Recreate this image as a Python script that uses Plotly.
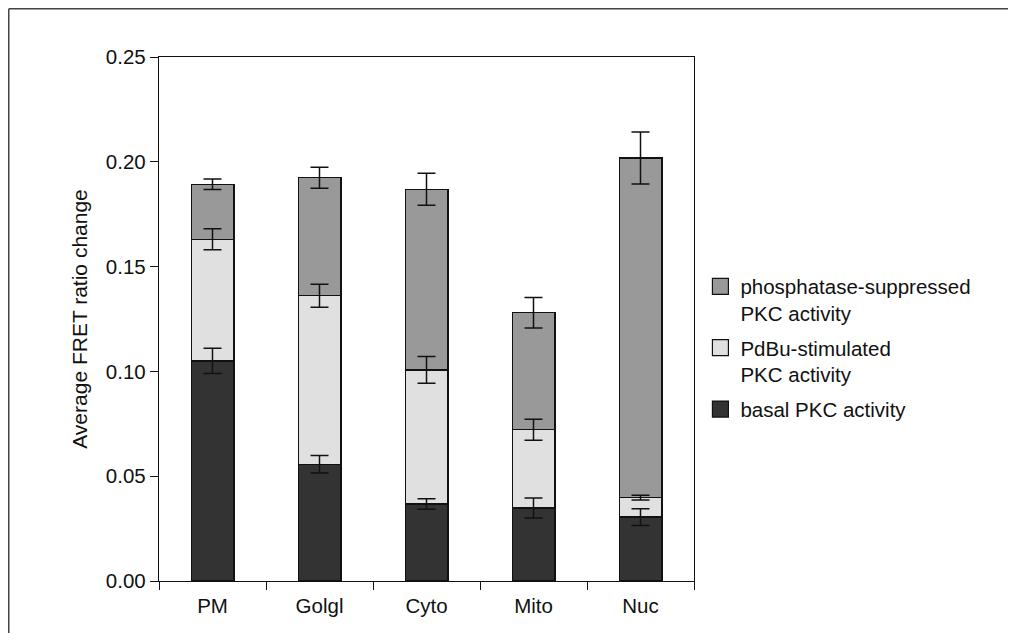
import plotly.graph_objects as go

categories = ["PM", "Golgl", "Cyto", "Mito", "Nuc"]

basal = [0.105, 0.0557, 0.0367, 0.0348, 0.0305]
pdbu = [0.058, 0.0804, 0.0640, 0.0374, 0.0093]
phos = [0.0263, 0.0563, 0.0862, 0.0558, 0.1620]

basal_err = [0.0060, 0.0042, 0.0025, 0.0048, 0.0040]
pdbu_err = [0.0050, 0.0055, 0.0064, 0.0050, 0.0011]
phos_err = [0.0025, 0.0050, 0.0076, 0.0073, 0.0124]

series_names = ["basal PKC activity", "PdBu-stimulated<br>PKC activity",
                "phosphatase-suppressed<br>PKC activity"]
series_colors = ["#333333", "#e0e0e0", "#999999"]

y_ticks = [0.0, 0.05, 0.10, 0.15, 0.20, 0.25]

FONT = "Liberation Sans, Arial, Helvetica, sans-serif"
FS = 20.5

series = [basal, pdbu, phos]
errors = [basal_err, pdbu_err, phos_err]

fig = go.Figure()
for vals, name, col in zip(series, series_names, series_colors):
    fig.add_trace(go.Bar(
        x=categories, y=vals, name=name, showlegend=False, hoverinfo="skip",
        marker=dict(color=col, line=dict(color="#111111", width=1.2)),
    ))

# error bars drawn on top of all stacked segments, at each segment's top
running = [0.0] * len(categories)
for vals, errs in zip(series, errors):
    running = [r + v for r, v in zip(running, vals)]
    fig.add_trace(go.Scatter(
        x=categories, y=running, mode="markers", showlegend=False, hoverinfo="skip",
        marker=dict(size=1, color="rgba(0,0,0,0)"),
        error_y=dict(type="data", array=errs, visible=True, color="#111111",
                     thickness=1.5, width=9),
    ))

# legend entries with larger square swatches (top segment listed first)
for i, (name, col) in enumerate(zip(series_names[::-1], series_colors[::-1])):
    fig.add_trace(go.Scatter(
        x=[None], y=[None], mode="markers", name=name, legendgroup=f"g{i}",
        marker=dict(symbol="square", size=16, color=col,
                    line=dict(color="#111111", width=1.2)),
    ))

fig.update_layout(
    barmode="stack",
    bargap=0.6,
    width=1000, height=625,
    margin=dict(l=151, r=314, t=49, b=52),
    paper_bgcolor="white", plot_bgcolor="white",
    font=dict(family=FONT, size=FS, color="#111111"),
    legend=dict(x=1.012, y=0.60, xanchor="left", yanchor="top",
                traceorder="grouped", valign="top", tracegroupgap=5,
                font=dict(size=FS), bgcolor="rgba(0,0,0,0)"),
    xaxis=dict(showline=True, linecolor="#111111", linewidth=1.3, mirror=True,
               ticks="outside", ticklen=8, tickwidth=1.3, tickcolor="#111111",
               tickson="boundaries", showgrid=False, zeroline=False,
               tickfont=dict(size=FS), ticklabelstandoff=6),
    yaxis=dict(range=[0, 0.25], tickvals=y_ticks, tickformat=".2f",
               showline=True, linecolor="#111111", linewidth=1.3, mirror=True,
               ticks="outside", ticklen=8, tickwidth=1.3, tickcolor="#111111",
               showgrid=False, zeroline=False, tickfont=dict(size=FS),
               title=dict(text="Average FRET ratio change", standoff=12,
                          font=dict(size=21))),
    shapes=[
        dict(type="line", xref="paper", yref="paper", x0=-0.2808, x1=-0.2808,
             y0=1.0921, y1=-0.12, line=dict(color="#444444", width=1.5)),
        dict(type="line", xref="paper", yref="paper", x0=-0.2808, x1=1.8,
             y0=1.0921, y1=1.0921, line=dict(color="#444444", width=1.5)),
    ],
)

fig.write_html("out.html")
